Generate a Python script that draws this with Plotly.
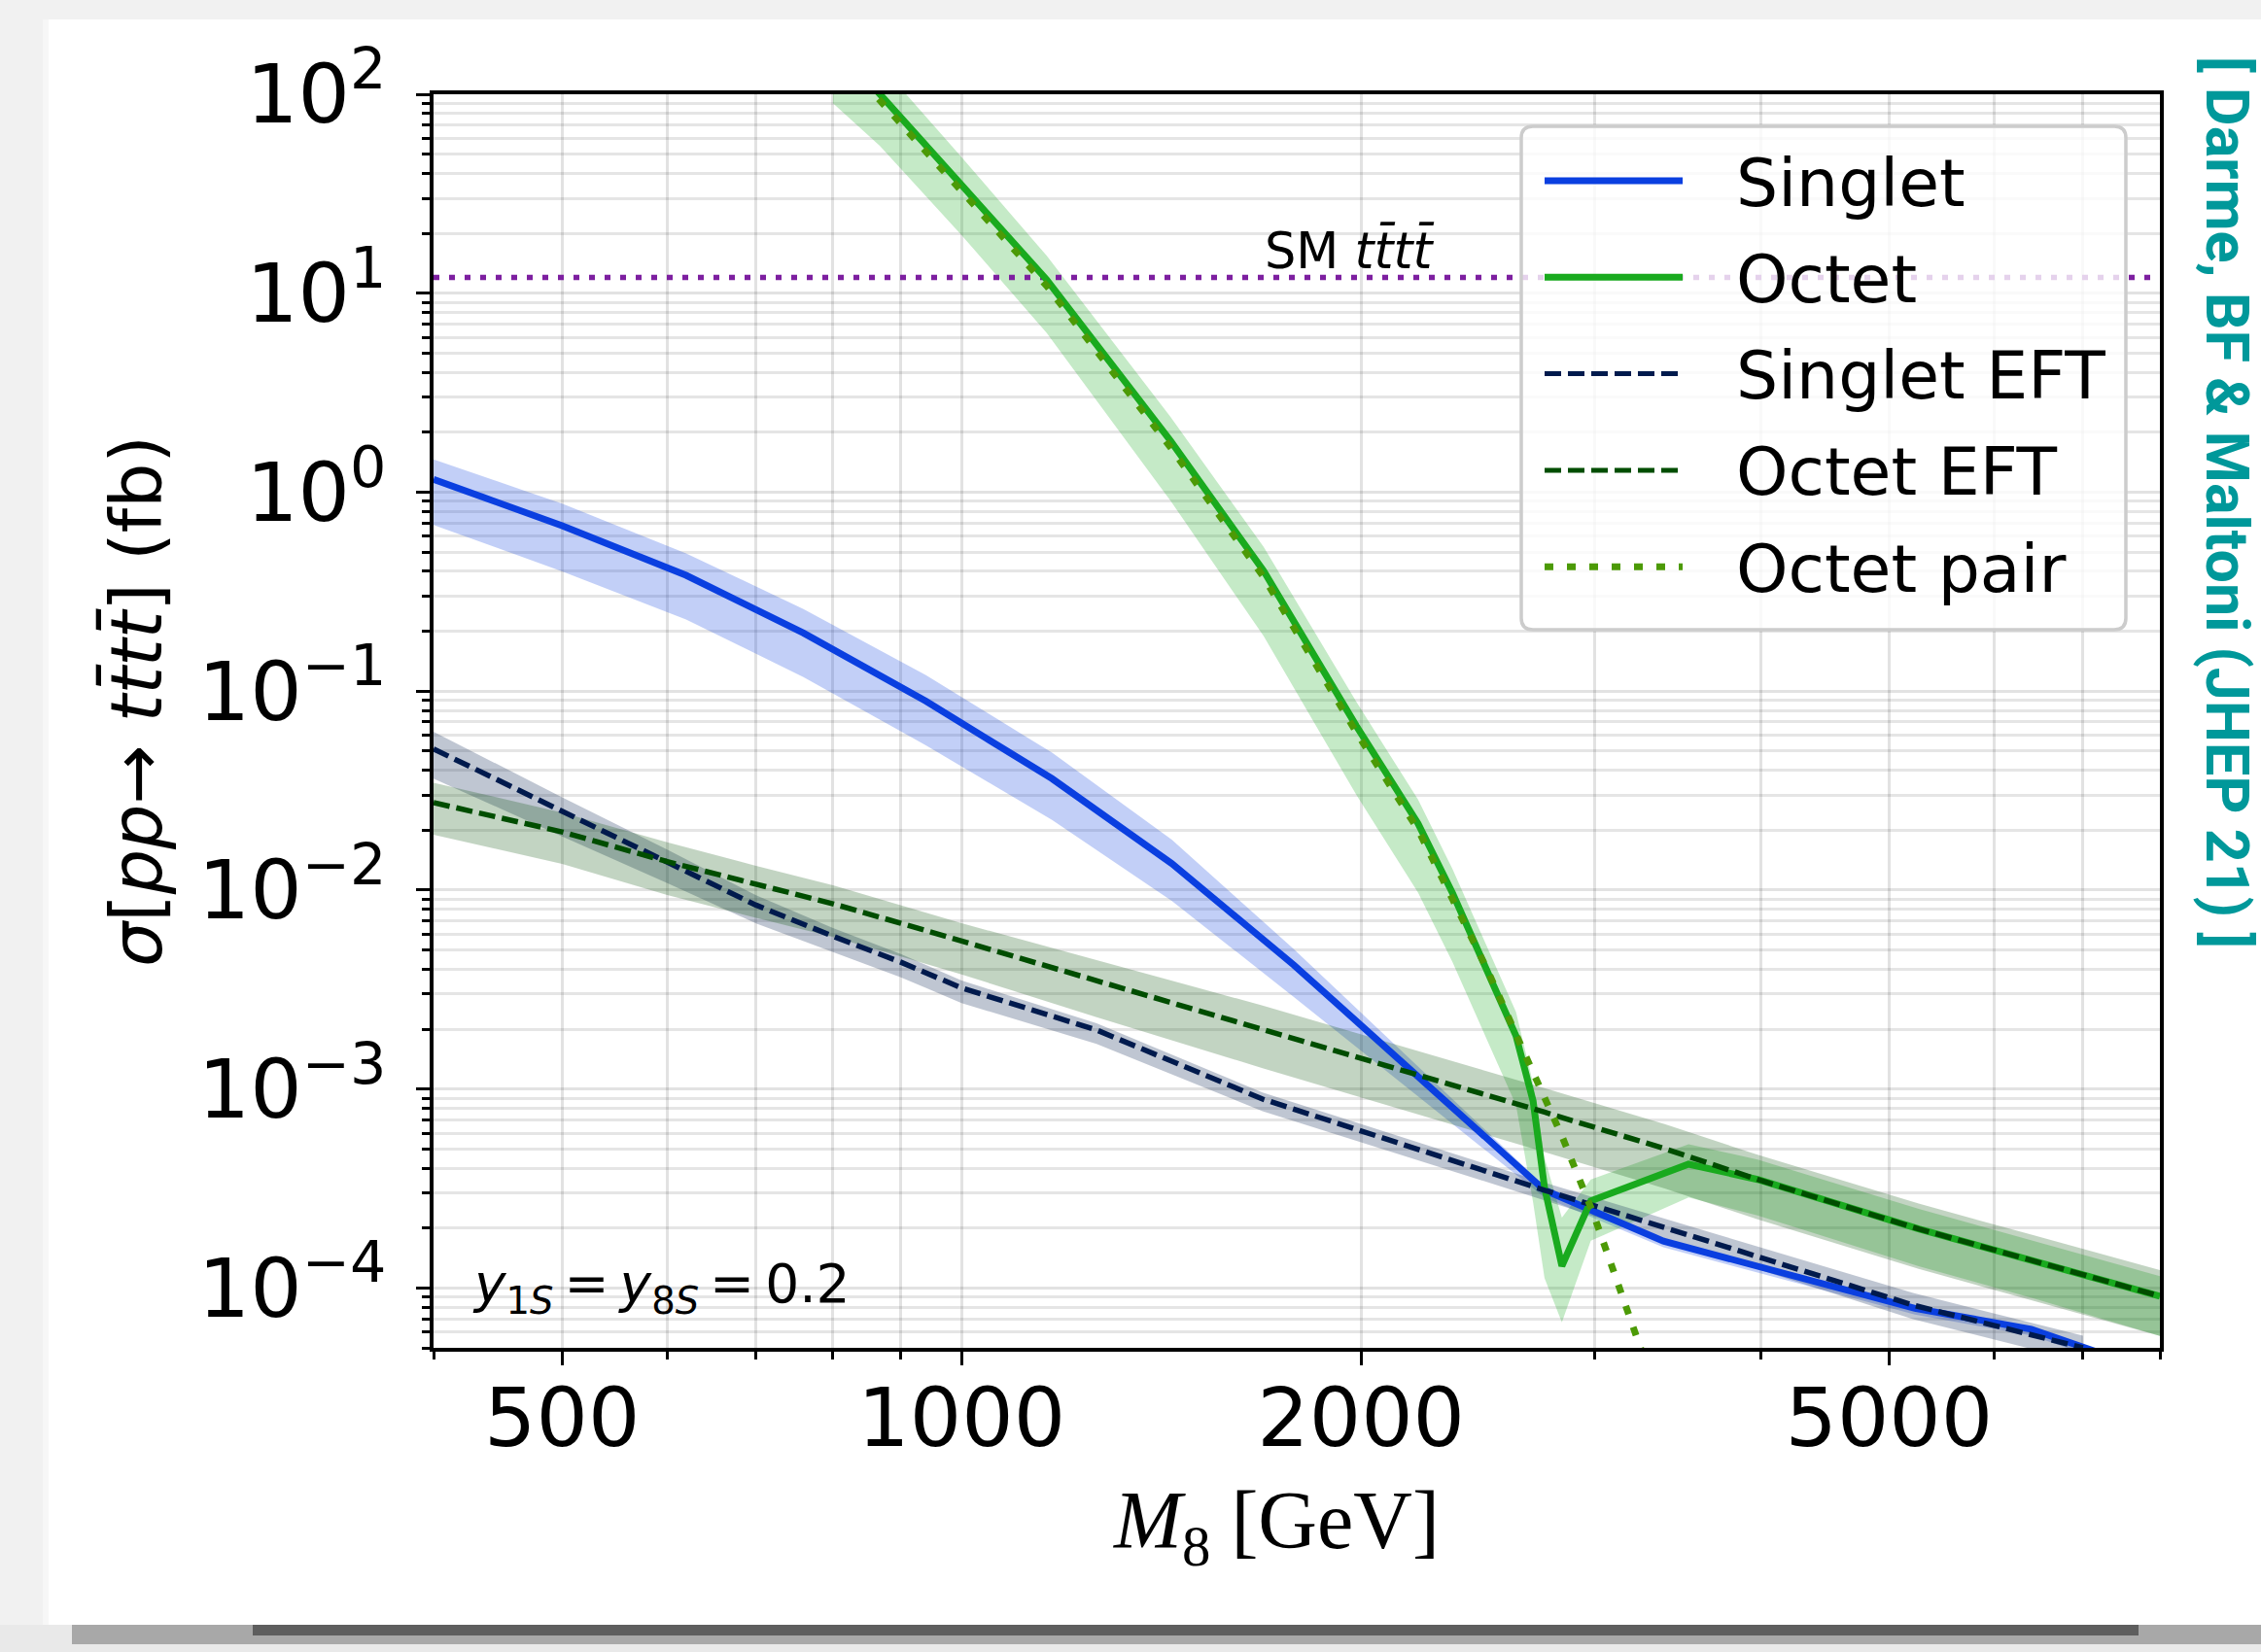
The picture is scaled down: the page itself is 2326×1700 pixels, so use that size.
import plotly.graph_objects as go

# sigma(pp -> t tbar t tbar) in fb versus the mediator mass M8 in GeV
singlet_mass = [400, 500, 620, 760, 940, 1170, 1440, 1780, 2750, 3380, 5230, 6400, 7500]
singlet_xsec = [1.16, 0.678, 0.382, 0.196, 0.089, 0.0363, 0.0136, 0.0042, 3.1e-4, 1.72e-4, 7.9e-5, 6.2e-5, 4.3e-5]
singlet_up_pct = [26, 29, 29, 32, 35, 35, 32, 20, 5, 3, 3, 3, 3]
singlet_dn_pct = [41, 41, 40, 40, 40, 38, 35, 31, 8, 7, 7, 7, 7]

octet_mass = [800, 868, 1000, 1159, 1437, 1689, 1984, 2208, 2344, 2489, 2617, 2696,
              2750, 2834, 2980, 3531, 3980, 5264, 6431, 8000]
octet_xsec = [180, 100, 35, 11.7, 1.81, 0.402, 0.0668, 0.0216, 0.00966, 0.00392, 0.00185, 8.7e-4,
              3.2e-4, 1.29e-4, 2.74e-4, 4.19e-4, 3.51e-4, 1.98e-4, 1.36e-4, 9.1e-5]
octet_up_pct = [41, 41, 38, 32, 32, 32, 32, 32, 32, 32, 32, 22, 41, 75, 28, 26, 26, 26, 26, 26]
octet_dn_pct = [50, 45, 44, 46, 50, 53, 55, 55, 55, 55, 55, 69, 65, 48, 37, 32, 34, 35, 35, 37]

singlet_eft_mass = [400, 500, 600, 700, 800, 900, 1000, 1264, 1686, 2750, 5213, 7000]
singlet_eft_xsec = [0.0512, 0.0248, 0.0139, 0.0084, 0.00586, 0.00434, 0.00322, 0.00198, 8.9e-4, 3.1e-4, 8.2e-5, 5.0e-5]
singlet_eft_up_pct = [22, 18, 15, 12, 10, 10, 9, 8, 8, 9, 15, 15]
singlet_eft_dn_pct = [29, 25, 22, 19, 17, 16, 16, 15, 13, 11, 15, 15]

octet_eft_mass = [400, 500, 600, 700, 800, 900, 1000, 1264, 1686, 2750, 3392, 3980, 5264, 6431, 8000]
octet_eft_xsec = [0.0275, 0.0196, 0.0139, 0.01067, 0.00853, 0.00681, 0.00554, 0.00353, 0.00199,
                  7.65e-4, 5.0e-4, 3.51e-4, 1.98e-4, 1.36e-4, 9.1e-5]
octet_eft_up_pct = [26, 25, 25, 24, 24, 23, 23, 26, 32, 32, 33, 33, 34, 35, 35]
octet_eft_dn_pct = [31, 31, 32, 32, 32, 32, 32, 35, 36, 37, 37, 37, 37, 37, 37]

octet_pair_mass = [800, 868, 1000, 1159, 1437, 1689, 1984, 2208, 2344, 2489, 2656, 2834, 2994, 3148, 3243, 3400]
octet_pair_xsec = [167, 93, 32.6, 10.9, 1.68, 0.374, 0.062, 0.0201, 0.0090, 0.0040, 0.00151, 5.81e-4,
                   2.35e-4, 9.06e-5, 5.2e-5, 2.1e-5]

sm_tttt_xsec = 12.0
mass_range = [400, 8000]

x_major = [500, 1000, 2000, 5000]
x_minor = [400, 600, 700, 800, 900, 3000, 4000, 6000, 7000, 8000]
y_major = [1e-4, 1e-3, 1e-2, 1e-1, 1e0, 1e1, 1e2]
y_major_text = ["10<sup>\u22124</sup>", "10<sup>\u22123</sup>", "10<sup>\u22122</sup>",
                "10<sup>\u22121</sup>", "10<sup>0</sup>", "10<sup>1</sup>", "10<sup>2</sup>"]
y_minor = [m * 10.0 ** e for e in range(-5, 2) for m in range(2, 10) if 5e-5 <= m * 10.0 ** e < 100]

# colours
C_SINGLET = "#0a3fe0"
C_OCTET = "#19aa1e"
C_SINGLET_EFT = "#001a4d"
C_OCTET_EFT = "#004d00"
C_PAIR = "#4c9a06"
C_SM = "#7d1fa0"
DASH = "17px,7px"

# canvas geometry (pixels)
W, H = 2326, 1700
ML, MR, MT, MB = 446, 104, 97, 313
PW, PH = W - ML - MR, H - MT - MB


def fx(px):
    return (px - ML) / PW


def fy(py):
    return (H - MB - py) / PH


def band(mass, xsec, up, dn, rgba, name):
    upper = [s * (1 + u / 100) for s, u in zip(xsec, up)]
    lower = [s * (1 - d / 100) for s, d in zip(xsec, dn)]
    return go.Scatter(x=list(mass) + list(mass)[::-1], y=upper + lower[::-1],
                      fill="toself", fillcolor=rgba, line=dict(width=0),
                      mode="lines", hoverinfo="skip", showlegend=False, name=name)


fig = go.Figure()

# uncertainty bands
fig.add_trace(band(singlet_mass, singlet_xsec, singlet_up_pct, singlet_dn_pct, "rgba(10,63,224,0.25)", "Singlet band"))
fig.add_trace(band(octet_mass, octet_xsec, octet_up_pct, octet_dn_pct, "rgba(25,170,30,0.25)", "Octet band"))
fig.add_trace(band(singlet_eft_mass, singlet_eft_xsec, singlet_eft_up_pct, singlet_eft_dn_pct, "rgba(0,26,77,0.25)", "Singlet EFT band"))
fig.add_trace(band(octet_eft_mass, octet_eft_xsec, octet_eft_up_pct, octet_eft_dn_pct, "rgba(0,77,0,0.24)", "Octet EFT band"))

# SM reference value
fig.add_trace(go.Scatter(x=mass_range, y=[sm_tttt_xsec, sm_tttt_xsec], mode="lines",
                         line=dict(color=C_SM, width=5.5, dash="6px,10px"), showlegend=False))

# central curves
fig.add_trace(go.Scatter(x=singlet_mass, y=singlet_xsec, mode="lines",
                         line=dict(color=C_SINGLET, width=7), name="Singlet", showlegend=False))
fig.add_trace(go.Scatter(x=octet_mass, y=octet_xsec, mode="lines",
                         line=dict(color=C_OCTET, width=7), name="Octet", showlegend=False))
fig.add_trace(go.Scatter(x=singlet_eft_mass, y=singlet_eft_xsec, mode="lines",
                         line=dict(color=C_SINGLET_EFT, width=5.5, dash=DASH), name="Singlet EFT", showlegend=False))
fig.add_trace(go.Scatter(x=octet_eft_mass, y=octet_eft_xsec, mode="lines",
                         line=dict(color=C_OCTET_EFT, width=5.5, dash=DASH), name="Octet EFT", showlegend=False))
fig.add_trace(go.Scatter(x=octet_pair_mass, y=octet_pair_xsec, mode="lines",
                         line=dict(color=C_PAIR, width=7, dash="9px,14px"), name="Octet pair", showlegend=False))

FONT = "DejaVu Sans, Verdana, sans-serif"
grid = "rgba(0,0,0,0.115)"

fig.update_xaxes(
    type="log", range=[2.60206, 3.90309], showline=True, linewidth=3.5, linecolor="black", mirror=True,
    tickmode="array", tickvals=x_major, ticktext=[str(v) for v in x_major],
    ticks="outside", ticklen=14, tickwidth=3, tickcolor="black", ticklabelstandoff=-18,
    tickfont=dict(family=FONT, size=84, color="black"),
    showgrid=True, gridcolor=grid, gridwidth=3, zeroline=False,
    minor=dict(tickmode="array", tickvals=x_minor, ticks="outside", ticklen=8, tickwidth=2.5,
               tickcolor="black", showgrid=True, gridcolor=grid, gridwidth=3),
)
fig.update_yaxes(
    type="log", range=[-4.30103, 2.0], showline=True, linewidth=3.5, linecolor="black", mirror=True,
    tickmode="array", tickvals=y_major, ticktext=y_major_text,
    ticks="outside", ticklen=14, tickwidth=3, tickcolor="black", ticklabelstandoff=14,
    tickfont=dict(family=FONT, size=84, color="black"),
    showgrid=True, gridcolor=grid, gridwidth=3, zeroline=False,
    minor=dict(tickmode="array", tickvals=y_minor, ticks="outside", ticklen=8, tickwidth=2.5,
               tickcolor="black", showgrid=True, gridcolor="rgba(0,0,0,0.10)", gridwidth=3),
)

shapes = []
# card background decoration
paper_grey = "#f1f1f1"
shapes += [
    dict(type="rect", xref="paper", yref="paper", x0=fx(0), x1=fx(W), y0=fy(20), y1=fy(0),
         fillcolor=paper_grey, line=dict(width=0), layer="below"),
    dict(type="rect", xref="paper", yref="paper", x0=fx(0), x1=fx(46), y0=fy(H), y1=fy(0),
         fillcolor=paper_grey, line=dict(width=0), layer="below"),
    dict(type="rect", xref="paper", yref="paper", x0=fx(44), x1=fx(50), y0=fy(1672), y1=fy(20),
         fillcolor="#f7f7f7", line=dict(width=0), layer="below"),
    dict(type="rect", xref="paper", yref="paper", x0=fx(0), x1=fx(W), y0=fy(H), y1=fy(1672),
         fillcolor="#e9e9e9", line=dict(width=0), layer="below"),
    dict(type="rect", xref="paper", yref="paper", x0=fx(74), x1=fx(W), y0=fy(1692), y1=fy(1672),
         fillcolor="#a8a8a8", line=dict(width=0), layer="below"),
    dict(type="rect", xref="paper", yref="paper", x0=fx(260), x1=fx(2200), y0=fy(1683), y1=fy(1672),
         fillcolor="#5e5e5e", line=dict(width=0), layer="below"),
]

# legend box (rounded)
lx0, lx1, ly0, ly1, r = 1565, 2187, 130, 648, 12


def P(px, py):
    return f"{fx(px):.5f},{fy(py):.5f}"


legend_path = (f"M{P(lx0 + r, ly0)} L{P(lx1 - r, ly0)} Q{P(lx1, ly0)} {P(lx1, ly0 + r)} "
               f"L{P(lx1, ly1 - r)} Q{P(lx1, ly1)} {P(lx1 - r, ly1)} L{P(lx0 + r, ly1)} "
               f"Q{P(lx0, ly1)} {P(lx0, ly1 - r)} L{P(lx0, ly0 + r)} Q{P(lx0, ly0)} {P(lx0 + r, ly0)} Z")
shapes.append(dict(type="path", xref="paper", yref="paper", path=legend_path,
                   fillcolor="rgba(255,255,255,0.8)", line=dict(color="#cccccc", width=3.5), layer="above"))

legend_items = [
    ("Singlet", dict(color=C_SINGLET, width=7)),
    ("Octet", dict(color=C_OCTET, width=7)),
    ("Singlet EFT", dict(color=C_SINGLET_EFT, width=5, dash=DASH)),
    ("Octet EFT", dict(color=C_OCTET_EFT, width=5, dash=DASH)),
    ("Octet pair", dict(color=C_PAIR, width=7, dash="9px,14px")),
]
annotations = []
row0, row_step = 186, 99.3
for i, (label, style) in enumerate(legend_items):
    yy = row0 + i * row_step
    shapes.append(dict(type="line", xref="paper", yref="paper", x0=fx(1589), x1=fx(1731),
                       y0=fy(yy), y1=fy(yy), line=style, layer="above"))
    annotations.append(dict(xref="paper", yref="paper", x=fx(1784), y=fy(yy + 2), xanchor="left",
                            yanchor="middle", text=label, showarrow=False,
                            font=dict(family=FONT, size=68, color="black")))

tbar = "t\u0304"
thin = "\u2009"
annotations += [
    # axis titles
    dict(xref="paper", yref="paper", x=fx(140), y=fy(722), xanchor="center", yanchor="middle",
         textangle=-90, showarrow=False,
         text=f"<i>\u03c3</i>[<i>pp</i>\u2192 <i>t{tbar}t{tbar}</i>] (fb)",
         font=dict(family=FONT, size=73, color="black")),
    dict(xref="paper", yref="paper", x=fx(1313), y=fy(1571), xanchor="center", yanchor="middle",
         showarrow=False, text="<i>M</i><sub>8</sub> [GeV]",
         font=dict(family="Liberation Serif, Times New Roman, serif", size=84, color="black")),
    # in-plot labels
    dict(xref="paper", yref="paper", x=fx(1388), y=fy(258), xanchor="center", yanchor="middle",
         showarrow=False, text=f"SM <i>t{tbar}t{tbar}</i>",
         font=dict(family=FONT, size=51, color="black")),
    dict(xref="paper", yref="paper", x=fx(484), y=fy(1325), xanchor="left", yanchor="middle",
         showarrow=False,
         text=f"<i>y</i><sub>1<i>S</i></sub>{thin}={thin}<i>y</i><sub>8<i>S</i></sub>{thin}={thin}0.2",
         font=dict(family=FONT, size=55, color="black")),
    # citation
    dict(xref="paper", yref="paper", x=fx(2291), y=fy(517), xanchor="center", yanchor="middle",
         textangle=90, showarrow=False,
         text="<b>[ Darme, BF &amp; Maltoni (JHEP 21) ]</b>",
         font=dict(family="Roboto, DejaVu Sans, sans-serif", size=61, color="#00989a")),
]

fig.update_layout(
    width=W, height=H, margin=dict(l=ML, r=MR, t=MT, b=MB, pad=0, autoexpand=False),
    paper_bgcolor="white", plot_bgcolor="white", showlegend=False,
    shapes=shapes, annotations=annotations,
)

fig.write_html("out.html")
